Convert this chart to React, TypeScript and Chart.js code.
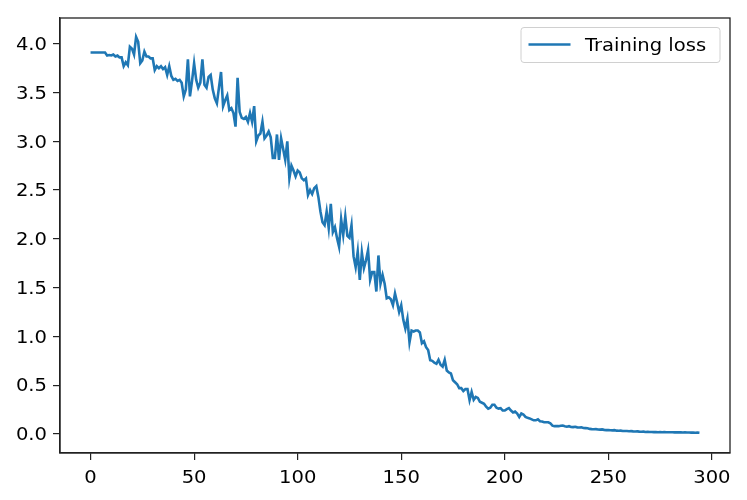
import React, { useEffect, useRef } from "react";
import { Chart, registerables } from "chart.js";

Chart.register(...registerables);

const seriesLabel = "Training loss";

const lossA = [
  3.91, 3.91, 3.91, 3.91, 3.91, 3.91, 3.91, 3.91, 3.88, 3.885,
  3.88, 3.89, 3.87, 3.88, 3.86, 3.86, 3.77, 3.81, 3.78, 3.97,
  3.95, 3.89, 4.07, 4.02, 3.80, 3.83, 3.92, 3.87, 3.87, 3.85,
  3.85, 3.73, 3.77, 3.75, 3.77, 3.74, 3.76, 3.68, 3.77, 3.67,
  3.63, 3.64, 3.62, 3.63, 3.60, 3.46, 3.53, 3.84, 3.46, 3.62,
  3.80, 3.63, 3.55, 3.60, 3.84, 3.58, 3.55, 3.66, 3.68, 3.53,
];
const lossB = [
  3.44, 3.39, 3.55, 3.71, 3.36, 3.42, 3.47, 3.32, 3.34, 3.29,
  3.15, 3.65, 3.30, 3.24, 3.23, 3.25, 3.20, 3.29, 3.20, 3.36,
  3.00, 3.06, 3.08, 3.20, 3.03, 3.06, 3.10, 3.04, 2.83, 2.83,
  3.07, 2.81, 3.03, 2.92, 2.81, 3.00, 2.62, 2.75, 2.70, 2.64,
  2.70, 2.68, 2.62, 2.60, 2.62, 2.45, 2.50, 2.46, 2.52, 2.54,
  2.43, 2.28, 2.17, 2.14, 2.28, 2.11, 2.36, 2.07, 2.12, 2.01,
];
const lossC = [
  1.92, 2.20, 2.04, 2.23, 2.03, 2.01, 2.14, 1.82, 1.71, 1.87,
  1.58, 1.86, 1.70, 1.78, 1.885, 1.58, 1.66, 1.66, 1.46, 1.83,
  1.54, 1.63, 1.54, 1.39, 1.40, 1.38, 1.32, 1.44, 1.35, 1.25,
  1.32, 1.17, 1.08, 1.18, 0.94, 1.06, 1.05, 1.06, 1.06, 1.04,
  0.93, 0.95, 0.89, 0.86, 0.756, 0.75, 0.73, 0.72, 0.76, 0.71,
  0.69, 0.76, 0.65, 0.63, 0.62, 0.55, 0.53, 0.51, 0.47, 0.47,
];
const lossD = [
  0.44, 0.46, 0.46, 0.346, 0.43, 0.35, 0.38, 0.37, 0.33, 0.32,
  0.31, 0.28, 0.26, 0.27, 0.30, 0.30, 0.27, 0.26, 0.265, 0.24,
  0.24, 0.255, 0.265, 0.24, 0.22, 0.23, 0.21, 0.175, 0.21, 0.20,
  0.175, 0.165, 0.16, 0.15, 0.14, 0.14, 0.15, 0.13, 0.127, 0.12,
  0.12, 0.12, 0.11, 0.085, 0.08, 0.08, 0.08, 0.085, 0.086, 0.08,
  0.075, 0.08, 0.072, 0.07, 0.074, 0.068, 0.066, 0.068, 0.062, 0.060,
];
const lossE = [
  0.058, 0.052, 0.050, 0.049, 0.050, 0.046, 0.045, 0.047, 0.042, 0.040,
  0.041, 0.038, 0.037, 0.039, 0.034, 0.033, 0.034, 0.031, 0.030, 0.031,
  0.028, 0.029, 0.027, 0.026, 0.027, 0.024, 0.023, 0.024, 0.021, 0.022,
  0.020, 0.021, 0.019, 0.020, 0.018, 0.019, 0.018, 0.019, 0.017, 0.018,
  0.017, 0.018, 0.016, 0.017, 0.016, 0.017, 0.015, 0.016, 0.015, 0.015,
  0.014, 0.015, 0.013, 0.014, 0.012,
];
const loss = [...lossA, ...lossB, ...lossC, ...lossD, ...lossE];

const xTicks = [0, 50, 100, 150, 200, 250, 300];
const yTicks = [0, 0.5, 1, 1.5, 2, 2.5, 3, 3.5, 4];

const LINE = "#1f77b4";
const FONT = "'DejaVu Sans', sans-serif";
const STRETCH = 1.15;

function stretchedText(ctx: any, text: string, x: number, y: number, align: string) {
  ctx.save();
  ctx.translate(x, y);
  ctx.scale(STRETCH, 1);
  ctx.textAlign = align;
  ctx.fillText(text, 0, 0);
  ctx.restore();
}

const framePlugin = {
  id: "frame",
  afterDraw(chart: any) {
    const { ctx, chartArea: a } = chart;
    ctx.save();
    ctx.strokeStyle = "#222";
    ctx.lineWidth = 1.3;
    ctx.strokeRect(a.left, a.top, a.right - a.left, a.bottom - a.top);

    // tick labels, positioned by the scales
    ctx.fillStyle = "#000";
    ctx.font = `17px ${FONT}`;
    ctx.textBaseline = "alphabetic";
    const xs = chart.scales.x;
    xTicks.forEach((v) => {
      stretchedText(ctx, String(v), xs.getPixelForValue(v), 483, "center");
    });
    const ys = chart.scales.y;
    yTicks.forEach((v) => {
      stretchedText(ctx, v.toFixed(1), 47, ys.getPixelForValue(v) + 6.2, "right");
    });

    // legend
    const bx = 521, by = 27.5, bw = 199, bh = 35, r = 3;
    ctx.beginPath();
    ctx.moveTo(bx + r, by);
    ctx.lineTo(bx + bw - r, by);
    ctx.arcTo(bx + bw, by, bx + bw, by + r, r);
    ctx.lineTo(bx + bw, by + bh - r);
    ctx.arcTo(bx + bw, by + bh, bx + bw - r, by + bh, r);
    ctx.lineTo(bx + r, by + bh);
    ctx.arcTo(bx, by + bh, bx, by + bh - r, r);
    ctx.lineTo(bx, by + r);
    ctx.arcTo(bx, by, bx + r, by, r);
    ctx.closePath();
    ctx.fillStyle = "rgba(255,255,255,0.8)";
    ctx.fill();
    ctx.strokeStyle = "#d0d0d0";
    ctx.lineWidth = 1;
    ctx.stroke();
    ctx.beginPath();
    ctx.moveTo(528.5, 44.5);
    ctx.lineTo(570.5, 44.5);
    ctx.strokeStyle = LINE;
    ctx.lineWidth = 2.6;
    ctx.stroke();
    ctx.fillStyle = "#000";
    ctx.font = `17px ${FONT}`;
    ctx.textBaseline = "alphabetic";
    stretchedText(ctx, seriesLabel, 585, 51, "left");
    ctx.restore();
  },
};

export default function App() {
  const ref = useRef<HTMLCanvasElement>(null);
  useEffect(() => {
    document.body.style.margin = "0";
    const ctx = ref.current!;
    const chart = new Chart(ctx, {
      type: "line",
      data: {
        datasets: [
          {
            label: seriesLabel,
            data: loss.map((v, i) => ({ x: i, y: v })),
            borderColor: LINE,
            borderWidth: 2.6,
            pointRadius: 0,
            tension: 0,
            fill: false,
          },
        ],
      },
      options: {
        animation: false,
        responsive: false,
        parsing: false as any,
        layout: { padding: { left: 0, right: 17, top: 18, bottom: 0 } },
        plugins: { legend: { display: false }, tooltip: { enabled: false } },
        scales: {
          x: {
            type: "linear",
            min: -14.75,
            max: 308.75,
            afterBuildTicks: (s: any) => {
              s.ticks = xTicks.map((v) => ({ value: v }));
            },
            afterFit: (s: any) => {
              s.height = 47;
            },
            grid: { drawOnChartArea: false, drawTicks: true, tickLength: 7, color: "#222", lineWidth: 1.2 },
            border: { display: true, color: "#222", width: 1.3 },
            ticks: { display: false, autoSkip: false },
          },
          y: {
            type: "linear",
            min: -0.195,
            max: 4.264,
            afterBuildTicks: (s: any) => {
              s.ticks = yTicks.map((v) => ({ value: v }));
            },
            afterFit: (s: any) => {
              s.width = 60;
            },
            grid: { drawOnChartArea: false, drawTicks: true, tickLength: 7, color: "#222", lineWidth: 1.2 },
            border: { display: true, color: "#222", width: 1.3 },
            ticks: { display: false, autoSkip: false },
          },
        },
      },
      plugins: [framePlugin],
    });
    return () => chart.destroy();
  }, []);
  return (
    <div style={{ width: 747, height: 500, background: "#fff" }}>
      <canvas ref={ref} width={747} height={500} style={{ display: "block", width: 747, height: 500 }} />
    </div>
  );
}
